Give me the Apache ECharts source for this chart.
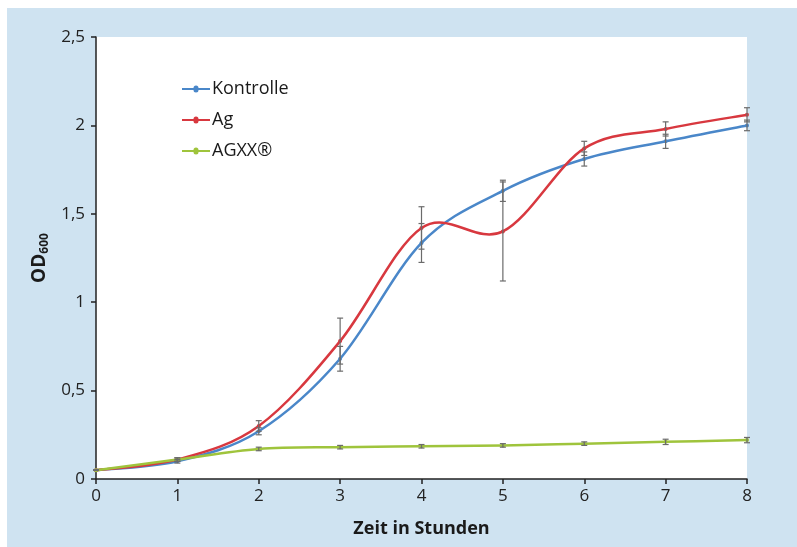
<!DOCTYPE html>
<html>
<head>
<meta charset="utf-8">
<script src="https://cdn.jsdelivr.net/npm/echarts@6/dist/echarts.min.js"></script>
<style>
  * { margin: 0; padding: 0; }
  body { background: #fff; }
  #panel {
    position: absolute; left: 7px; top: 8px;
    width: 790px; height: 539px;
    background: #cfe3f1;
  }
  #chart-container {
    position: absolute; left: 0; top: 0;
    width: 797px; height: 547px;
  }
</style>
</head>
<body>
<div id="panel"></div>
<div id="chart-container"></div>
<script>
  // Zeit in Stunden
  var hours = [0, 1, 2, 3, 4, 5, 6, 7, 8]
  // OD600 Mittelwerte
  var kontrolle = [0.05, 0.10, 0.27, 0.68, 1.335, 1.63, 1.81, 1.91, 2.00]
  var ag = [0.05, 0.11, 0.30, 0.78, 1.42, 1.40, 1.87, 1.98, 2.06]
  var agxx = [0.05, 0.11, 0.17, 0.18, 0.185, 0.19, 0.20, 0.21, 0.22]
  // Standardabweichung (+/-)
  var kontrolleErr = [0, 0.01, 0.02, 0.07, 0.11, 0.06, 0.04, 0.04, 0.03]
  var agErr = [0, 0.01, 0.03, 0.13, 0.12, 0.28, 0.04, 0.04, 0.04]
  var agxxErr = [0, 0.01, 0.01, 0.01, 0.01, 0.01, 0.01, 0.015, 0.015]

  var yTicks = [0, 0.5, 1, 1.5, 2, 2.5]

  var FONT = '"Open Sans", "Noto Sans", sans-serif'
  // Legendensymbol: Linie mit kleinem Punkt
  var LEGEND_ICON = 'path://M0,3.1H11.5A2.5,2.5 0 0 1 16.5,3.1H28V4.9H16.5A2.5,2.5 0 0 1 11.5,4.9H0Z'

  function pairs(vals) {
    return hours.map(function (h, i) { return [h, vals[i]] })
  }
  function errData(vals, errs) {
    return hours.map(function (h, i) { return [h, vals[i] - errs[i], vals[i] + errs[i]] })
  }

  function renderErr(params, api) {
    var x = api.value(0)
    var lo = api.coord([x, api.value(1)])
    var hi = api.coord([x, api.value(2)])
    var w = 3
    var style = { stroke: '#6b6b6b', lineWidth: 1.2 }
    return {
      type: 'group',
      children: [
        { type: 'line', shape: { x1: lo[0], y1: lo[1], x2: hi[0], y2: hi[1] }, style: style },
        { type: 'line', shape: { x1: lo[0] - w, y1: lo[1], x2: lo[0] + w, y2: lo[1] }, style: style },
        { type: 'line', shape: { x1: hi[0] - w, y1: hi[1], x2: hi[0] + w, y2: hi[1] }, style: style }
      ]
    }
  }

  // geglaettete Kurve (Catmull-Rom, wie in Excel) ueber die Achsen der Bibliothek
  function curveRenderer(vals, color) {
    return function (params, api) {
      var i = params.dataIndex
      var n = hours.length
      var pt = function (k) {
        k = Math.max(0, Math.min(n - 1, k))
        return api.coord([hours[k], vals[k]])
      }
      var p0 = pt(i - 1), p1 = pt(i), p2 = pt(i + 1), p3 = pt(i + 2)
      var children = []
      if (i < n - 1) {
        children.push({
          type: 'bezierCurve',
          shape: {
            x1: p1[0], y1: p1[1],
            cpx1: p1[0] + (p2[0] - p0[0]) / 6, cpy1: p1[1] + (p2[1] - p0[1]) / 6,
            cpx2: p2[0] - (p3[0] - p1[0]) / 6, cpy2: p2[1] - (p3[1] - p1[1]) / 6,
            x2: p2[0], y2: p2[1]
          },
          style: { stroke: color, lineWidth: 2.5, fill: null }
        })
      }
      children.push({
        type: 'circle',
        shape: { cx: p1[0], cy: p1[1], r: 2 },
        style: { fill: color }
      })
      return { type: 'group', children: children }
    }
  }

  function lineSeries(name, vals, color) {
    return {
      name: name,
      type: 'custom',
      data: pairs(vals),
      encode: { x: 0, y: 1 },
      renderItem: curveRenderer(vals, color),
      itemStyle: { color: color },
      z: 3,
      silent: true
    }
  }

  function errSeries(vals, errs) {
    return {
      type: 'custom',
      renderItem: renderErr,
      data: errData(vals, errs),
      encode: { x: 0, y: [1, 2] },
      z: 4,
      silent: true
    }
  }

  var myChart = echarts.init(document.getElementById('chart-container'), null, { renderer: 'canvas' })

  var option = {
    animation: false,
    textStyle: { fontFamily: FONT },
    grid: {
      left: 96, right: 50, top: 37, bottom: 68,
      show: true, backgroundColor: '#ffffff', borderWidth: 0
    },
    legend: {
      orient: 'vertical',
      left: 177, top: 75,
      itemGap: 13,
      itemWidth: 28,
      itemHeight: 7,
      data: [
        { name: 'Kontrolle', icon: LEGEND_ICON },
        { name: 'Ag', icon: LEGEND_ICON },
        { name: 'AGXX®', icon: LEGEND_ICON }
      ],
      textStyle: { fontSize: 18, color: '#1a1a1a', fontFamily: FONT, padding: [0, 0, 0, -3] }
    },
    xAxis: {
      type: 'value',
      min: 0, max: 8, interval: 1,
      name: 'Zeit in Stunden',
      nameLocation: 'middle',
      nameGap: 41,
      nameTextStyle: { fontSize: 18, fontWeight: 'bold', color: '#1a1a1a', fontFamily: FONT },
      axisLine: { lineStyle: { color: '#222', width: 1.5 } },
      axisTick: { show: true, length: 5, lineStyle: { color: '#222', width: 1.5 } },
      axisLabel: { fontSize: 17, color: '#222', margin: 9, fontFamily: FONT },
      splitLine: { show: false }
    },
    yAxis: {
      type: 'value',
      min: 0, max: 2.5, interval: 0.5,
      name: '{a|OD}{b|600}',
      nameLocation: 'middle',
      nameGap: 33,
      nameTextStyle: {
        rich: {
          a: { fontSize: 19, fontWeight: 'bold', color: '#1a1a1a', fontFamily: FONT },
          b: { fontSize: 12, fontWeight: 'bold', color: '#1a1a1a', fontFamily: FONT, padding: [9, 0, 0, 0] }
        }
      },
      axisLine: { show: true, lineStyle: { color: '#222', width: 1.5 } },
      axisTick: { show: true, length: 5, lineStyle: { color: '#222', width: 1.5 } },
      axisLabel: {
        fontSize: 17, color: '#222', margin: 11, fontFamily: FONT,
        formatter: function (v) {
          return yTicks.indexOf(v) >= 0 ? String(v).replace('.', ',') : ''
        }
      },
      splitLine: { show: false }
    },
    series: [
      lineSeries('Kontrolle', kontrolle, '#4a87c9'),
      lineSeries('Ag', ag, '#d8383f'),
      lineSeries('AGXX®', agxx, '#9fc43c'),
      errSeries(kontrolle, kontrolleErr),
      errSeries(ag, agErr),
      errSeries(agxx, agxxErr)
    ]
  }

  myChart.setOption(option)
  window.addEventListener('resize', myChart.resize)
</script>
</body>
</html>
